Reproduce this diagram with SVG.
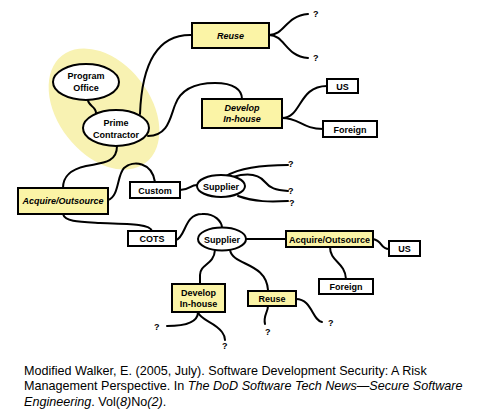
<svg xmlns="http://www.w3.org/2000/svg" width="486" height="418" viewBox="0 0 486 418">
<style>
.ln{fill:none;stroke:#000;stroke-width:2;stroke-linecap:round}
.yb{fill:#FBF4A6;stroke:#000;stroke-width:2}
.wb{fill:#fff;stroke:#000;stroke-width:2}
.el{fill:#fff;stroke:#000;stroke-width:2}
.t{font-family:"Liberation Sans",Arial,sans-serif;font-size:9px;font-weight:bold;text-anchor:middle;fill:#000}
.ti{font-style:italic}
.q{font-family:"Liberation Sans",Arial,sans-serif;font-size:9px;font-weight:bold;fill:#000}
.cap{font-family:"Liberation Sans",Arial,sans-serif;font-size:12.6px;fill:#000}
</style>
<rect width="486" height="418" fill="#fff"/>
<ellipse cx="104" cy="109" rx="68" ry="46" transform="rotate(52 104 109)" fill="#F8F2B2"/>
<g id="connectors">
<path class="ln" d="M88,100 C88,106 96,106 96,113"/>
<path class="ln" d="M140,114 C142,60 160,34 192,35"/>
<path class="ln" d="M269,35 C285,35 285,16 308,14"/>
<path class="ln" d="M269,35 C285,35 285,56 308,58"/>
<path class="ln" d="M148,136 C168,136 170,118 175,105 C181,88 198,83 215,83 C234,83 242,90 242,99"/>
<path class="ln" d="M282,118 C302,118 298,86 327,86"/>
<path class="ln" d="M282,118 C300,118 302,129 323,129"/>
<path class="ln" d="M117,146 C117,164 100,163 86,166 C68,170 63,178 63,188"/>
<path class="ln" d="M108,200 C119,197 117,175 124,168 C133,160 152,162 155,182"/>
<path class="ln" d="M180,190 C190,190 190,185 197,185"/>
<path class="ln" d="M226,176 C240,168 260,165 288,165"/>
<path class="ln" d="M233,177 C250,172 260,176 265,182 C270,188 275,190 288,191"/>
<path class="ln" d="M238,196 C255,202 270,202 288,201"/>
<path class="ln" d="M63,214 C65,222 80,222 100,223 C130,224 150,224 152,231"/>
<path class="ln" d="M176,240 C186,237 184,214 202,214 C215,213 222,222 222,228"/>
<path class="ln" d="M246,239 L286,239"/>
<path class="ln" d="M373,239 C383,241 380,249 389,249"/>
<path class="ln" d="M330,247 C330,262 345,262 346,279"/>
<path class="ln" d="M215,250 C214,265 200,264 200,275 L200,284"/>
<path class="ln" d="M230,250 C233,266 266,262 268,290"/>
<path class="ln" d="M198,312 C198,322 185,326 167,326"/>
<path class="ln" d="M198,312 C200,320 215,322 222,332 C225,336 225,338 225,340"/>
<path class="ln" d="M268,306 C268,312 263,316 265,324"/>
<path class="ln" d="M296,299 C312,299 312,320 322,322"/>
</g>
<g id="program-office"><ellipse class="el" cx="86" cy="82" rx="33" ry="18"/><text class="t" x="86" y="79">Program</text><text class="t" x="86" y="91">Office</text></g>
<g id="prime-contractor"><ellipse class="el" cx="116" cy="128" rx="33" ry="18"/><text class="t" x="116" y="126">Prime</text><text class="t" x="116" y="138">Contractor</text></g>
<g id="reuse1"><rect class="yb" x="192" y="23" width="77" height="25"/><text class="t ti" x="230.5" y="39">Reuse</text></g>
<g id="q1"><text class="q" x="313" y="17">?</text></g>
<g id="q2"><text class="q" x="313" y="61">?</text></g>
<g id="develop1"><rect class="yb" x="202" y="99" width="80" height="29"/><text class="t ti" x="242" y="111">Develop</text><text class="t ti" x="242" y="122">In-house</text></g>
<g id="us1"><rect class="wb" x="327" y="79" width="31" height="14"/><text class="t" x="342.5" y="89.5">US</text></g>
<g id="foreign1"><rect class="wb" x="323" y="121" width="54" height="16"/><text class="t" x="350" y="132.5">Foreign</text></g>
<g id="acquire1"><rect class="yb" x="18" y="188" width="90" height="26"/><text class="t ti" x="63" y="204">Acquire/Outsource</text></g>
<g id="custom"><rect class="wb" x="130" y="182" width="50" height="16"/><text class="t" x="155" y="193.5">Custom</text></g>
<g id="supplier1"><ellipse class="el" cx="221" cy="186" rx="24" ry="11"/><text class="t" x="221" y="189.5">Supplier</text></g>
<g id="q3"><text class="q" x="288" y="167">?</text></g>
<g id="q4"><text class="q" x="288" y="194">?</text></g>
<g id="q5"><text class="q" x="289" y="206">?</text></g>
<g id="cots"><rect class="wb" x="128" y="231" width="48" height="15"/><text class="t" x="152" y="242">COTS</text></g>
<g id="supplier2"><ellipse class="el" cx="222" cy="239" rx="24" ry="11.5"/><text class="t" x="222" y="242.5">Supplier</text></g>
<g id="acquire2"><rect class="yb" x="286" y="231" width="87" height="16"/><text class="t" x="329.5" y="242.5">Acquire/Outsource</text></g>
<g id="us2"><rect class="wb" x="389" y="241" width="31" height="15"/><text class="t" x="404.5" y="252">US</text></g>
<g id="foreign2"><rect class="wb" x="319" y="279" width="54" height="15"/><text class="t" x="346" y="290">Foreign</text></g>
<g id="develop2"><rect class="yb" x="172" y="284" width="53" height="28"/><text class="t" x="198.5" y="296">Develop</text><text class="t" x="198.5" y="307">In-house</text></g>
<g id="reuse2"><rect class="yb" x="248" y="291" width="48" height="15"/><text class="t" x="272" y="302">Reuse</text></g>
<g id="q6"><text class="q" x="154" y="330">?</text></g>
<g id="q7"><text class="q" x="222" y="349">?</text></g>
<g id="q8"><text class="q" x="265" y="335">?</text></g>
<g id="q9"><text class="q" x="328" y="326">?</text></g>
<g id="caption">
<text class="cap" x="24" y="375">Modified Walker, E. (2005, July). Software Development Security: A Risk</text>
<text class="cap" x="24" y="390">Management Perspective. In <tspan font-style="italic">The DoD Software Tech News—Secure Software</tspan></text>
<text class="cap" x="24" y="406"><tspan font-style="italic">Engineering</tspan>. Vol(<tspan font-style="italic">8)</tspan>No<tspan font-style="italic">(2)</tspan>.</text>
</g>
</svg>
